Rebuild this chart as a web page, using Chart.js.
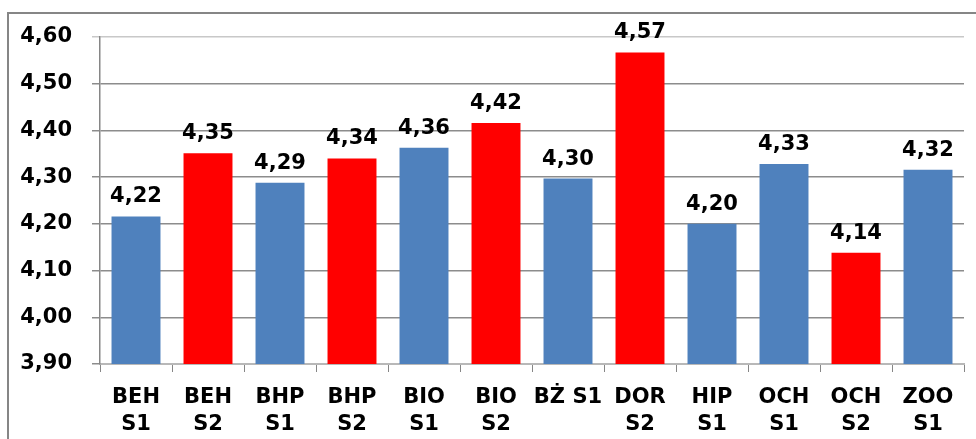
<!DOCTYPE html>
<html>
<head>
<meta charset="utf-8">
<script src="https://cdn.jsdelivr.net/npm/chart.js@4/dist/chart.umd.min.js"></script>
<style>
    body { margin: 0; background: #fff; }
    #wrap { position: relative; width: 976px; height: 439px; overflow: hidden; }
    #frame { position: absolute; left: 7px; top: 12px; width: 1000px; height: 500px; border-left: 2px solid #868686; border-top: 2px solid #868686; }
    #chart { position: absolute; left: 0; top: 0; }
</style>
</head>
<body>
<div id="wrap">
    <div id="frame"></div>
    <canvas id="chart" width="976" height="439"></canvas>
</div>
<script>
const categories = [
    ['BEH', 'S1'], ['BEH', 'S2'], ['BHP', 'S1'], ['BHP', 'S2'],
    ['BIO', 'S1'], ['BIO', 'S2'], 'BŻ S1', ['DOR', 'S2'],
    ['HIP', 'S1'], ['OCH', 'S1'], ['OCH', 'S2'], ['ZOO', 'S1']
];
const scores = [4.216, 4.351, 4.288, 4.340, 4.363, 4.416, 4.297, 4.567, 4.200, 4.328, 4.138, 4.316];
const yTicks = [3.9, 4.0, 4.1, 4.2, 4.3, 4.4, 4.5, 4.6];

const BLUE = '#4f81bd';
const RED = '#ff0000';
const FONT = 'DejaVu Sans, Verdana, sans-serif';

function isSecond(cat) {
    const name = Array.isArray(cat) ? cat.join(' ') : cat;
    return name.endsWith('S2');
}

function fmt(v) {
    return v.toFixed(2).replace('.', ',');
}

// value labels above each bar
const valueLabels = {
    id: 'valueLabels',
    afterDatasetsDraw(chart) {
        const ctx = chart.ctx;
        const meta = chart.getDatasetMeta(0);
        ctx.save();
        ctx.font = 'bold 21px ' + FONT;
        ctx.fillStyle = '#000';
        ctx.textAlign = 'center';
        ctx.textBaseline = 'alphabetic';
        meta.data.forEach((bar, i) => {
            ctx.fillText(fmt(scores[i]), bar.x, bar.y - 14);
        });
        ctx.restore();
    }
};

const ctx = document.getElementById('chart').getContext('2d');
const chart = new Chart(ctx, {
    type: 'bar',
    data: {
        labels: categories,
        datasets: [{
            data: scores,
            backgroundColor: categories.map(c => isSecond(c) ? RED : BLUE),
            borderWidth: 0,
            barPercentage: 0.68,
            categoryPercentage: 1
        }]
    },
    options: {
        responsive: false,
        animation: false,
        layout: { padding: { left: 0, right: 12, top: 37, bottom: 0 } },
        plugins: {
            legend: { display: false },
            tooltip: { enabled: false }
        },
        scales: {
            x: {
                grid: {
                    offset: true,
                    drawOnChartArea: false,
                    drawTicks: true,
                    tickLength: 8,
                    color: '#868686'
                },
                border: { color: '#b8b8b8', width: 2 },
                ticks: {
                    color: '#000',
                    font: { family: FONT, size: 21, weight: 'bold', lineHeight: 1.3 },
                    padding: 12,
                    maxRotation: 0,
                    autoSkip: false
                },
                afterFit(scale) { scale.height = 75; }
            },
            y: {
                min: yTicks[0],
                max: yTicks[yTicks.length - 1],
                afterBuildTicks(scale) {
                    scale.ticks = yTicks.map(v => ({ value: v }));
                },
                grid: {
                    color: c => c.index === yTicks.length - 1 ? '#c8c8c8' : '#8c8c8c',
                    tickLength: 8,
                    lineWidth: 1.5
                },
                border: { color: '#868686', width: 1.5 },
                ticks: {
                    color: '#000',
                    font: { family: FONT, size: 21, weight: 'bold' },
                    padding: 20,
                    callback: v => fmt(v)
                },
                afterFit(scale) { scale.width = 100; }
            }
        }
    },
    plugins: [valueLabels]
});
</script>
</body>
</html>
